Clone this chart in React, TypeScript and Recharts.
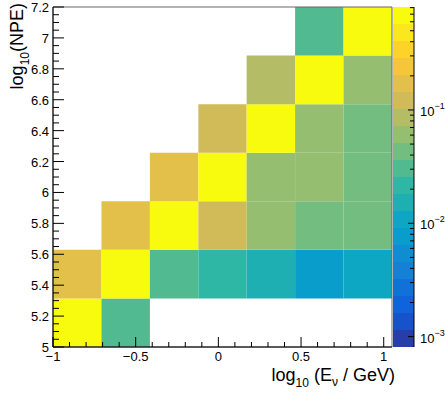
import { ComposedChart, XAxis, YAxis, ReferenceArea, Customized } from "recharts";

// bin edges of the 2D histogram
const energyEdges = [-1, -0.707, -0.414, -0.121, 0.171, 0.464, 0.757, 1.05];
const npeEdges = [5, 5.314, 5.629, 5.943, 6.257, 6.571, 6.886, 7.2];

// column-normalised content, one array per log10(NPE) row (bottom -> top), null = empty bin
const npeRow1 = [0.81, 0.03, null, null, null, null, null];
const npeRow2 = [0.17, 0.8, 0.03, 0.021, 0.015, 0.0075, 0.0107];
const npeRow3 = [null, 0.17, 0.79, 0.12, 0.06, 0.0425, 0.0425];
const npeRow4 = [null, null, 0.17, 0.74, 0.06, 0.06, 0.0425];
const npeRow5 = [null, null, null, 0.12, 0.78, 0.06, 0.0425];
const npeRow6 = [null, null, null, null, 0.085, 0.8, 0.06];
const npeRow7 = [null, null, null, null, null, 0.03, 0.8];
const rows = [npeRow1, npeRow2, npeRow3, npeRow4, npeRow5, npeRow6, npeRow7];

const xLabels = [-1, -0.5, 0, 0.5, 1];
const yLabels = [5, 5.2, 5.4, 5.6, 5.8, 6, 6.2, 6.4, 6.6, 6.8, 7, 7.2];
const zLabels = [0.001, 0.01, 0.1];

const FONT = "'Liberation Sans', Arial, Helvetica, sans-serif";
const NCONT = 20;

// ROOT kBird palette
const stops = [0, 0.125, 0.25, 0.375, 0.5, 0.625, 0.75, 0.875, 1];
const red = [0.2082, 0.0592, 0.078, 0.0232, 0.1802, 0.5301, 0.8186, 0.9956, 0.9764];
const green = [0.1664, 0.3599, 0.5041, 0.6419, 0.7178, 0.7492, 0.7328, 0.7862, 0.9832];
const blue = [0.5293, 0.8684, 0.8385, 0.7914, 0.6425, 0.4662, 0.3499, 0.1968, 0.0539];

function bird(t: number) {
  let i = 0;
  while (i < stops.length - 2 && t > stops[i + 1]) i++;
  const f = (t - stops[i]) / (stops[i + 1] - stops[i]);
  const c = (a: number[]) => Math.round(255 * (a[i] + (a[i + 1] - a[i]) * f));
  return `rgb(${c(red)},${c(green)},${c(blue)})`;
}

const allValues = rows.flat().filter((v): v is number => v != null);
const zMax = Math.max(...allValues);
const zMin = zMax * 1e-3;
const logMin = Math.log10(zMin);
const logMax = Math.log10(zMax);

function bandColor(band: number) {
  const k = Math.floor(((band + 0.99) * 255) / NCONT);
  return bird(k / 254);
}

function cellColor(z: number) {
  const band = Math.min(NCONT - 1, Math.floor(0.01 + ((Math.log10(z) - logMin) * NCONT) / (logMax - logMin)));
  return bandColor(band);
}

const levels = Array.from({ length: NCONT + 1 }, (_, i) => Math.pow(10, logMin + (i * (logMax - logMin)) / NCONT));
const barData = [{ x: 0, z: zMin }, { x: 1, z: zMax }];

// minor ticks between the labelled ones
const xTicks: number[] = [];
for (let i = 0; i < xLabels.length - 1; i++) for (let j = 0; j < 5; j++) xTicks.push(+(xLabels[i] + j * 0.1).toFixed(3));
xTicks.push(1);
const yTicks: number[] = [];
for (let i = 0; i < yLabels.length - 1; i++) for (let j = 0; j < 4; j++) yTicks.push(+(yLabels[i] + j * 0.05).toFixed(3));
yTicks.push(7.2);
const zTicks: number[] = [];
for (const d of zLabels) for (let m = 1; m < 10; m++) if (d * m <= zMax) zTicks.push(d * m);

const isMajor = (v: number, list: number[]) => list.some(l => Math.abs(l - v) < 1e-6);
const fmt = (v: number) => (v < 0 ? "\u2212" + Math.abs(v) : String(v));

function XTick(props: any) {
  const { x, y, payload } = props;
  const major = isMajor(payload.value, xLabels);
  return (
    <g>
      <line x1={x} x2={x} y1={y} y2={y - (major ? 10 : 5)} stroke="#000" />
      {major && (
        <text x={x} y={y + 14} textAnchor="middle" fontSize={13} fontFamily={FONT} fill="#000">
          {fmt(payload.value)}
        </text>
      )}
    </g>
  );
}

function YTick(props: any) {
  const { x, y, payload } = props;
  const major = isMajor(payload.value, yLabels);
  return (
    <g>
      <line x1={x} x2={x + (major ? 11 : 6)} y1={y} y2={y} stroke="#000" />
      {major && (
        <text x={x - 4} y={y + 5} textAnchor="end" fontSize={13} fontFamily={FONT} fill="#000">
          {fmt(payload.value)}
        </text>
      )}
    </g>
  );
}

function ZTick(props: any) {
  const { x, y, payload } = props;
  const major = zLabels.some(l => Math.abs(l - payload.value) / l < 1e-6);
  return (
    <g>
      <line x1={x - (major ? 6 : 4)} x2={x} y1={y} y2={y} stroke="#000" />
      {major && (
        <text x={x + 6} y={y + 6} fontSize={13} fontFamily={FONT} fill="#000">
          10
          <tspan fontSize={9} dy={-7}>
            {"\u2212" + Math.round(-Math.log10(payload.value))}
          </tspan>
        </text>
      )}
    </g>
  );
}

function Titles() {
  return (
    <g fontFamily={FONT} fill="#000">
      <text x={395} y={381} textAnchor="end" fontSize={18}>
        log<tspan fontSize={12} dy={6}>10</tspan>
        <tspan dy={-6}> (E</tspan>
        <tspan fontSize={12} dy={5}>ν</tspan>
        <tspan dy={-5}> / GeV)</tspan>
      </text>
      <text transform="rotate(-90)" x={-3} y={23} textAnchor="end" fontSize={18}>
        log<tspan fontSize={12} dy={6}>10</tspan>
        <tspan dy={-6}>(NPE)</tspan>
      </text>
    </g>
  );
}

export default function App() {
  return (
    <div style={{ position: "absolute", left: 0, top: 0, width: 445, height: 394, background: "#fff" }}>
      <div style={{ position: "absolute", left: 0, top: 0 }}>
        <ComposedChart width={445} height={394} margin={{ top: 7, right: 53, bottom: 0, left: 0 }}>
          {rows.map((row, r) =>
            row.map((z, c) =>
              z == null ? null : (
                <ReferenceArea
                  key={`${r}-${c}`}
                  x1={energyEdges[c]}
                  x2={energyEdges[c + 1]}
                  y1={npeEdges[r]}
                  y2={npeEdges[r + 1]}
                  fill={cellColor(z)}
                  fillOpacity={1}
                  stroke="none"
                  ifOverflow="visible"
                />
              )
            )
          )}
          <ReferenceArea x1={-1} x2={1.05} y1={5} y2={7.2} fill="none" stroke="#666" strokeWidth={1} ifOverflow="visible" />
          <XAxis
            type="number"
            dataKey="x"
            domain={[-1, 1.05]}
            allowDataOverflow
            ticks={xTicks}
            interval={0}
            tickSize={0}
            tickMargin={0}
            tickLine={false}
            axisLine={{ stroke: "#000" }}
            height={47}
            tick={XTick}
          />
          <YAxis
            type="number"
            dataKey="y"
            domain={[5, 7.2]}
            allowDataOverflow
            ticks={yTicks}
            interval={0}
            tickSize={0}
            tickMargin={0}
            tickLine={false}
            axisLine={{ stroke: "#000" }}
            width={53}
            tick={YTick}
          />
          <Customized component={Titles} />
        </ComposedChart>
      </div>
      <div style={{ position: "absolute", left: 393, top: 0 }}>
        <ComposedChart width={52} height={394} data={barData} margin={{ top: 7, right: 0, bottom: 47, left: 0 }}>
          <XAxis type="number" dataKey="x" domain={[0, 1]} allowDataOverflow hide />
          <YAxis
            type="number"
            dataKey="z"
            orientation="right"
            scale="log"
            domain={[zMin, zMax]}
            allowDataOverflow
            ticks={zTicks}
            interval={0}
            tickSize={0}
            tickMargin={0}
            tickLine={false}
            axisLine={{ stroke: "#000" }}
            width={31}
            tick={ZTick}
          />
          {levels.slice(0, NCONT).map((lv, i) => (
            <ReferenceArea
              key={i}
              x1={0}
              x2={1}
              y1={lv}
              y2={levels[i + 1]}
              fill={bandColor(i)}
              fillOpacity={1}
              stroke="none"
              ifOverflow="visible"
            />
          ))}
        </ComposedChart>
      </div>
    </div>
  );
}
